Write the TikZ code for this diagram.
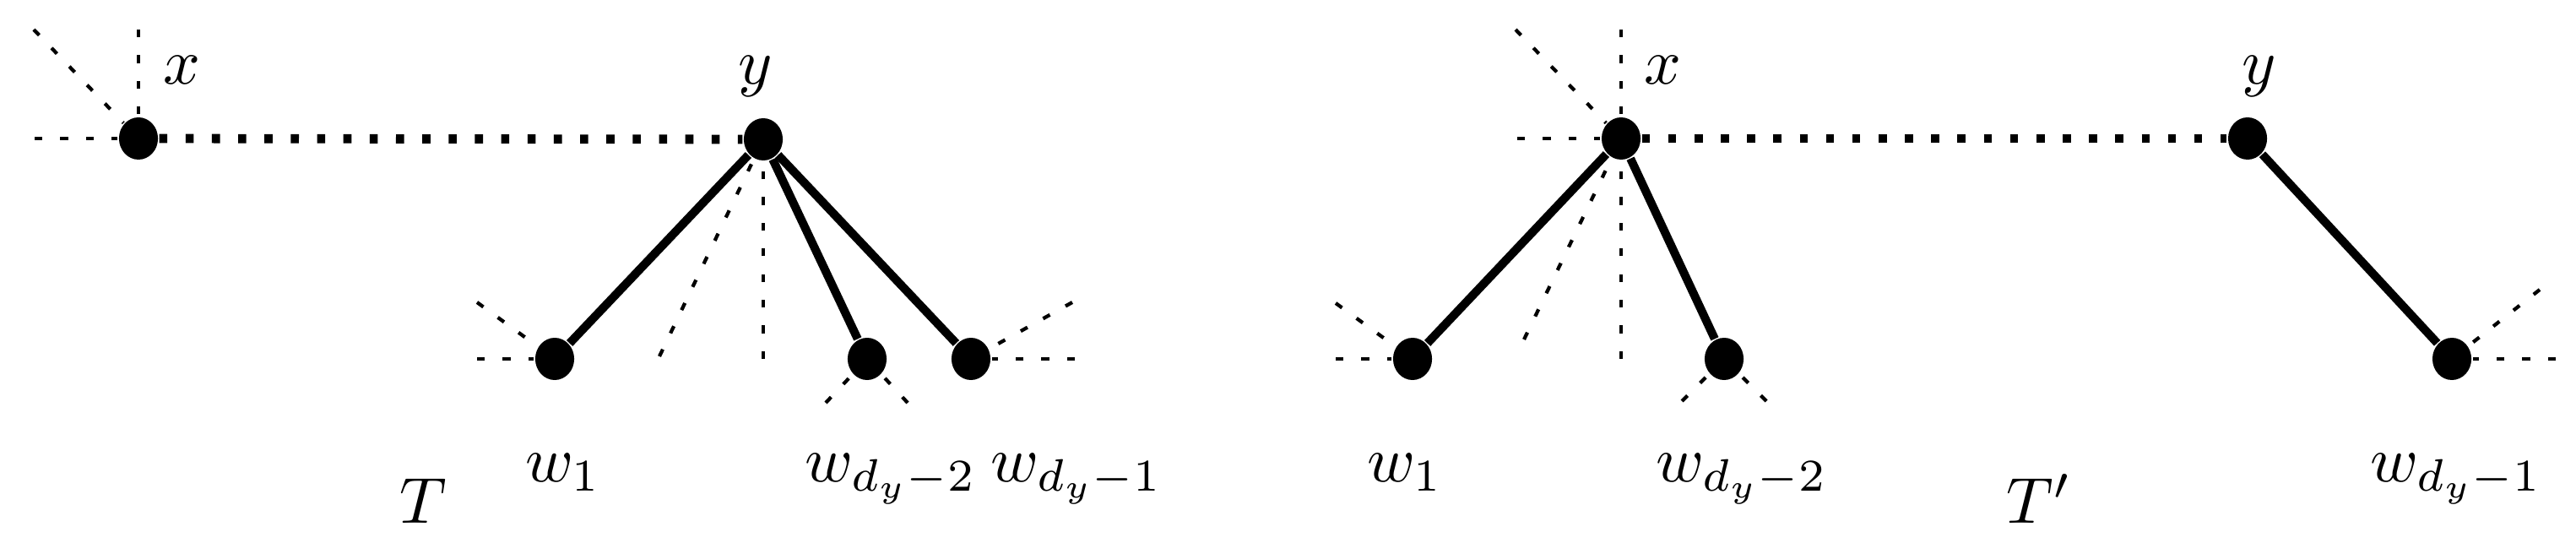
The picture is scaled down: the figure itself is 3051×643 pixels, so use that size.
\documentclass[tikz,border=0pt]{standalone}
\usetikzlibrary{shapes.geometric}
\begin{document}
\begin{tikzpicture}[x=0.13pt,y=-0.13pt,
  vtx/.style={ellipse,fill=black,inner sep=0pt,minimum width=6.0pt,minimum height=6.5pt},
  dsh/.style={line width=0.55pt,dash pattern=on 1.2pt off 2.75pt},
  thk/.style={line width=1.4pt,dash pattern=on 1.25pt off 2.8pt},
  edg/.style={line width=1.3pt},
  lbl/.style={anchor=base,inner sep=0pt}]
\useasboundingbox (0,0) rectangle (3051,643);
% vertices of T
\node[vtx] (x1) at (164,164) {};
\node[vtx] (y1) at (904,165) {};
\node[vtx] (a1) at (657,425) {};
\node[vtx] (b1) at (1027,425) {};
\node[vtx] (c1) at (1150,425) {};
% vertices of T'
\node[vtx] (x2) at (1920,164) {};
\node[vtx] (y2) at (2662,164) {};
\node[vtx] (a2) at (1673,425) {};
\node[vtx] (b2) at (2042,425) {};
\node[vtx] (c2) at (2904,425) {};
% free ends
\coordinate (x1d) at (40,35);
\coordinate (x1v) at (164,35);
\coordinate (x1h) at (41,164);
\coordinate (y1v) at (904,425);
\coordinate (y1d) at (781,422);
\coordinate (a1h) at (565,425);
\coordinate (a1d) at (565,358);
\coordinate (b1l) at (978,477);
\coordinate (b1r) at (1075,477);
\coordinate (c1h) at (1273,425);
\coordinate (c1d) at (1270,358);
\coordinate (x2d) at (1795,35);
\coordinate (x2v) at (1920,35);
\coordinate (x2h) at (1797,164);
\coordinate (x2s) at (1920,425);
\coordinate (x2e) at (1805,402);
\coordinate (a2h) at (1582,425);
\coordinate (a2d) at (1582,359);
\coordinate (b2l) at (1992,475);
\coordinate (b2r) at (2092,475);
\coordinate (c2h) at (3027,425);
\coordinate (c2d) at (3008,343);
% dashed stubs
\foreach \s/\t in {x1d/x1,x1v/x1,x1h/x1,y1v/y1,y1d/y1,a1h/a1,a1d/a1,b1l/b1,b1r/b1,c1h/c1,c1d/c1,
  x2d/x2,x2v/x2,x2h/x2,x2s/x2,x2e/x2,a2h/a2,a2d/a2,b2l/b2,b2r/b2,c2h/c2,c2d/c2}
  \draw[dsh] (\s) -- (\t);
% thick dotted x--y
\draw[thk] (x1) -- (y1);
\draw[thk] (x2) -- (y2);
% solid edges
\draw[edg] (y1) -- (a1);
\draw[edg] (y1) -- (b1);
\draw[edg] (y1) -- (c1);
\draw[edg] (x2) -- (a2);
\draw[edg] (x2) -- (b2);
\draw[edg] (y2) -- (c2);
% labels
\node[lbl] (lx1) at (215,100) {$x$};
\node[lbl] (ly1) at (895,100) {$y$};
\node[lbl] (lx2) at (1969,100) {$x$};
\node[lbl] (ly2) at (2676,100) {$y$};
\node[lbl] (la1) at (667,570) {$w_1$};
\node[lbl] (lb1) at (1055,570) {$w_{d_y-2}$};
\node[lbl] (lc1) at (1275,570) {$w_{d_y-1}$};
\node[lbl] (la2) at (1664,570) {$w_1$};
\node[lbl] (lb2) at (2063,570) {$w_{d_y-2}$};
\node[lbl] (lc2) at (2909,570) {$w_{d_y-1}$};
\node[lbl] (lT) at (501,619) {$T$};
\node[lbl] (lT2) at (2415,619) {$T'$};
\end{tikzpicture}
\end{document}
